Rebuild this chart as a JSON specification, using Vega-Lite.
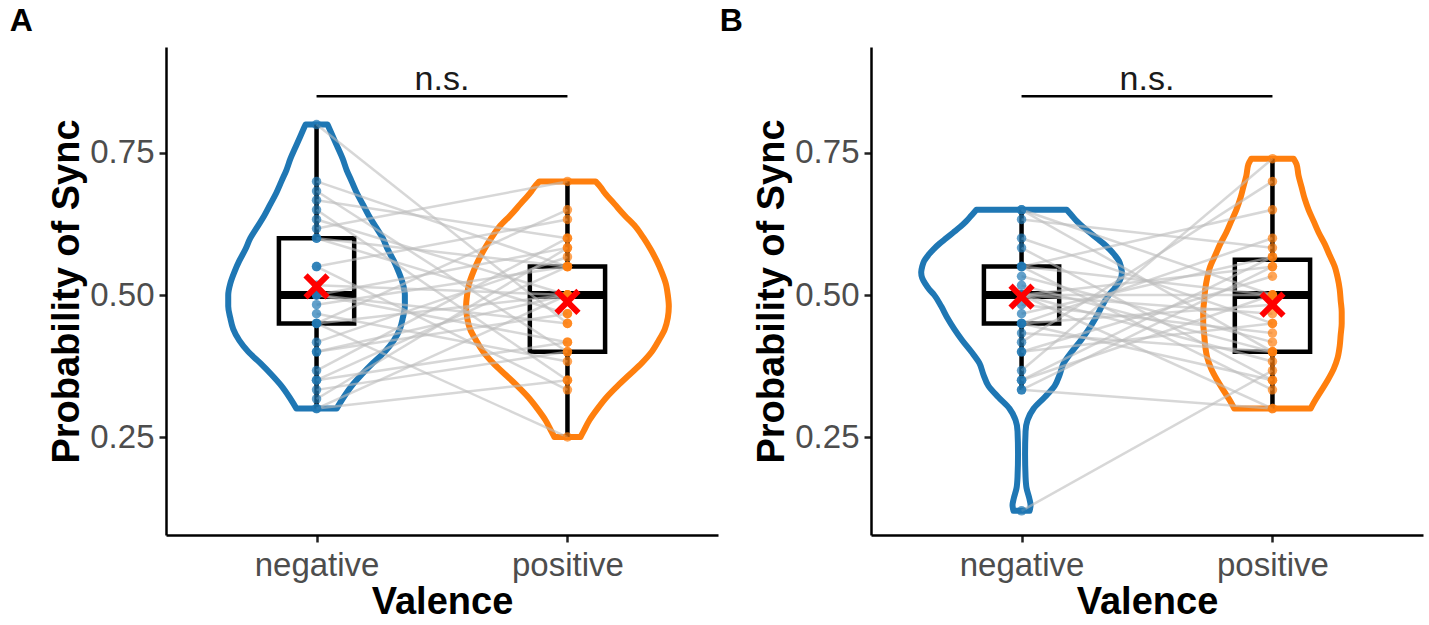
{
"$schema": "https://vega.github.io/schema/vega-lite/v6.json",
"background": "white",
"padding": {"left": 9, "top": 5, "right": 5, "bottom": 5},
"spacing": 1,
"config": {
  "view": {"stroke": null},
  "font": "Liberation Sans",
  "axis": {"grid": false, "domainColor": "black", "domainWidth": 2.5, "tickColor": "#222222", "tickWidth": 2.5, "tickSize": 7, "labelFont": "Liberation Sans", "labelFontSize": 33, "labelColor": "#4d4d4d", "titleFont": "Liberation Sans", "titleFontSize": 38, "titleFontWeight": "bold", "titleColor": "black"},
  "axisY": {"labelPadding": 5, "titlePadding": 3},
  "axisX": {"labelPadding": 7, "titlePadding": 1},
  "title": {"fontSize": 32, "fontWeight": "bold", "anchor": "start", "frame": "bounds", "color": "black", "font": "Liberation Sans"}
},
"datasets": {
  "pts": [
    {"panel":"A","id":1,"valence":"negative","value":0.80},{"panel":"A","id":1,"valence":"positive","value":0.45},
    {"panel":"A","id":2,"valence":"negative","value":0.70},{"panel":"A","id":2,"valence":"positive","value":0.55},
    {"panel":"A","id":3,"valence":"negative","value":0.683},{"panel":"A","id":3,"valence":"positive","value":0.40},
    {"panel":"A","id":4,"valence":"negative","value":0.667},{"panel":"A","id":4,"valence":"positive","value":0.60},
    {"panel":"A","id":5,"valence":"negative","value":0.65},{"panel":"A","id":5,"valence":"positive","value":0.35},
    {"panel":"A","id":6,"valence":"negative","value":0.633},{"panel":"A","id":6,"valence":"positive","value":0.50},
    {"panel":"A","id":7,"valence":"negative","value":0.617},{"panel":"A","id":7,"valence":"positive","value":0.70},
    {"panel":"A","id":8,"valence":"negative","value":0.60},{"panel":"A","id":8,"valence":"positive","value":0.467},
    {"panel":"A","id":9,"valence":"negative","value":0.60},{"panel":"A","id":9,"valence":"positive","value":0.55},
    {"panel":"A","id":10,"valence":"negative","value":0.55},{"panel":"A","id":10,"valence":"positive","value":0.333},
    {"panel":"A","id":11,"valence":"negative","value":0.55},{"panel":"A","id":11,"valence":"positive","value":0.633},
    {"panel":"A","id":12,"valence":"negative","value":0.517},{"panel":"A","id":12,"valence":"positive","value":0.50},
    {"panel":"A","id":13,"valence":"negative","value":0.50},{"panel":"A","id":13,"valence":"positive","value":0.417},
    {"panel":"A","id":14,"valence":"negative","value":0.50},{"panel":"A","id":14,"valence":"positive","value":0.583},
    {"panel":"A","id":15,"valence":"negative","value":0.50},{"panel":"A","id":15,"valence":"positive","value":0.45},
    {"panel":"A","id":16,"valence":"negative","value":0.483},{"panel":"A","id":16,"valence":"positive","value":0.55},
    {"panel":"A","id":17,"valence":"negative","value":0.467},{"panel":"A","id":17,"valence":"positive","value":0.383},
    {"panel":"A","id":18,"valence":"negative","value":0.45},{"panel":"A","id":18,"valence":"positive","value":0.65},
    {"panel":"A","id":19,"valence":"negative","value":0.45},{"panel":"A","id":19,"valence":"positive","value":0.50},
    {"panel":"A","id":20,"valence":"negative","value":0.45},{"panel":"A","id":20,"valence":"positive","value":0.25},
    {"panel":"A","id":21,"valence":"negative","value":0.417},{"panel":"A","id":21,"valence":"positive","value":0.567},
    {"panel":"A","id":22,"valence":"negative","value":0.40},{"panel":"A","id":22,"valence":"positive","value":0.50},
    {"panel":"A","id":23,"valence":"negative","value":0.40},{"panel":"A","id":23,"valence":"positive","value":0.467},
    {"panel":"A","id":24,"valence":"negative","value":0.367},{"panel":"A","id":24,"valence":"positive","value":0.60},
    {"panel":"A","id":25,"valence":"negative","value":0.35},{"panel":"A","id":25,"valence":"positive","value":0.417},
    {"panel":"A","id":26,"valence":"negative","value":0.35},{"panel":"A","id":26,"valence":"positive","value":0.55},
    {"panel":"A","id":27,"valence":"negative","value":0.333},{"panel":"A","id":27,"valence":"positive","value":0.40},
    {"panel":"A","id":28,"valence":"negative","value":0.317},{"panel":"A","id":28,"valence":"positive","value":0.583},
    {"panel":"A","id":29,"valence":"negative","value":0.30},{"panel":"A","id":29,"valence":"positive","value":0.50},
    {"panel":"A","id":30,"valence":"negative","value":0.30},{"panel":"A","id":30,"valence":"positive","value":0.35},
    {"panel":"B","id":1,"valence":"negative","value":0.65},{"panel":"B","id":1,"valence":"positive","value":0.50},
    {"panel":"B","id":2,"valence":"negative","value":0.65},{"panel":"B","id":2,"valence":"positive","value":0.40},
    {"panel":"B","id":3,"valence":"negative","value":0.633},{"panel":"B","id":3,"valence":"positive","value":0.583},
    {"panel":"B","id":4,"valence":"negative","value":0.60},{"panel":"B","id":4,"valence":"positive","value":0.45},
    {"panel":"B","id":5,"valence":"negative","value":0.583},{"panel":"B","id":5,"valence":"positive","value":0.35},
    {"panel":"B","id":6,"valence":"negative","value":0.55},{"panel":"B","id":6,"valence":"positive","value":0.65},
    {"panel":"B","id":7,"valence":"negative","value":0.55},{"panel":"B","id":7,"valence":"positive","value":0.50},
    {"panel":"B","id":8,"valence":"negative","value":0.533},{"panel":"B","id":8,"valence":"positive","value":0.417},
    {"panel":"B","id":9,"valence":"negative","value":0.517},{"panel":"B","id":9,"valence":"positive","value":0.40},
    {"panel":"B","id":10,"valence":"negative","value":0.50},{"panel":"B","id":10,"valence":"positive","value":0.55},
    {"panel":"B","id":11,"valence":"negative","value":0.50},{"panel":"B","id":11,"valence":"positive","value":0.30},
    {"panel":"B","id":12,"valence":"negative","value":0.50},{"panel":"B","id":12,"valence":"positive","value":0.467},
    {"panel":"B","id":13,"valence":"negative","value":0.50},{"panel":"B","id":13,"valence":"positive","value":0.50},
    {"panel":"B","id":14,"valence":"negative","value":0.50},{"panel":"B","id":14,"valence":"positive","value":0.383},
    {"panel":"B","id":15,"valence":"negative","value":0.483},{"panel":"B","id":15,"valence":"positive","value":0.433},
    {"panel":"B","id":16,"valence":"negative","value":0.467},{"panel":"B","id":16,"valence":"positive","value":0.567},
    {"panel":"B","id":17,"valence":"negative","value":0.45},{"panel":"B","id":17,"valence":"positive","value":0.35},
    {"panel":"B","id":18,"valence":"negative","value":0.45},{"panel":"B","id":18,"valence":"positive","value":0.60},
    {"panel":"B","id":19,"valence":"negative","value":0.45},{"panel":"B","id":19,"valence":"positive","value":0.483},
    {"panel":"B","id":20,"valence":"negative","value":0.433},{"panel":"B","id":20,"valence":"positive","value":0.40},
    {"panel":"B","id":21,"valence":"negative","value":0.417},{"panel":"B","id":21,"valence":"positive","value":0.70},
    {"panel":"B","id":22,"valence":"negative","value":0.40},{"panel":"B","id":22,"valence":"positive","value":0.533},
    {"panel":"B","id":23,"valence":"negative","value":0.40},{"panel":"B","id":23,"valence":"positive","value":0.45},
    {"panel":"B","id":24,"valence":"negative","value":0.367},{"panel":"B","id":24,"valence":"positive","value":0.74},
    {"panel":"B","id":25,"valence":"negative","value":0.35},{"panel":"B","id":25,"valence":"positive","value":0.50},
    {"panel":"B","id":26,"valence":"negative","value":0.35},{"panel":"B","id":26,"valence":"positive","value":0.567},
    {"panel":"B","id":27,"valence":"negative","value":0.333},{"panel":"B","id":27,"valence":"positive","value":0.30},
    {"panel":"B","id":28,"valence":"negative","value":0.333},{"panel":"B","id":28,"valence":"positive","value":0.55},
    {"panel":"B","id":29,"valence":"negative","value":0.12},{"panel":"B","id":29,"valence":"positive","value":0.367},
    {"panel":"B","id":30,"valence":"negative","value":0.55},{"panel":"B","id":30,"valence":"positive","value":0.333}
  ],
  "violin": [
    {"panel":"A","valence":"negative","value":0.30,"w":0.080},{"panel":"A","valence":"negative","value":0.32,"w":0.108},
    {"panel":"A","valence":"negative","value":0.34,"w":0.140},{"panel":"A","valence":"negative","value":0.36,"w":0.180},
    {"panel":"A","valence":"negative","value":0.38,"w":0.224},{"panel":"A","valence":"negative","value":0.40,"w":0.272},
    {"panel":"A","valence":"negative","value":0.42,"w":0.308},{"panel":"A","valence":"negative","value":0.44,"w":0.332},
    {"panel":"A","valence":"negative","value":0.46,"w":0.344},{"panel":"A","valence":"negative","value":0.48,"w":0.352},
    {"panel":"A","valence":"negative","value":0.50,"w":0.352},{"panel":"A","valence":"negative","value":0.52,"w":0.344},
    {"panel":"A","valence":"negative","value":0.54,"w":0.328},{"panel":"A","valence":"negative","value":0.56,"w":0.308},
    {"panel":"A","valence":"negative","value":0.58,"w":0.284},{"panel":"A","valence":"negative","value":0.60,"w":0.264},
    {"panel":"A","valence":"negative","value":0.62,"w":0.236},{"panel":"A","valence":"negative","value":0.64,"w":0.208},
    {"panel":"A","valence":"negative","value":0.66,"w":0.184},{"panel":"A","valence":"negative","value":0.68,"w":0.160},
    {"panel":"A","valence":"negative","value":0.70,"w":0.140},{"panel":"A","valence":"negative","value":0.72,"w":0.120},
    {"panel":"A","valence":"negative","value":0.74,"w":0.104},{"panel":"A","valence":"negative","value":0.76,"w":0.084},
    {"panel":"A","valence":"negative","value":0.78,"w":0.064},{"panel":"A","valence":"negative","value":0.80,"w":0.044},
    {"panel":"A","valence":"positive","value":0.25,"w":0.052},{"panel":"A","valence":"positive","value":0.26,"w":0.064},
    {"panel":"A","valence":"positive","value":0.28,"w":0.088},{"panel":"A","valence":"positive","value":0.30,"w":0.120},
    {"panel":"A","valence":"positive","value":0.32,"w":0.156},{"panel":"A","valence":"positive","value":0.34,"w":0.200},
    {"panel":"A","valence":"positive","value":0.36,"w":0.248},{"panel":"A","valence":"positive","value":0.38,"w":0.296},
    {"panel":"A","valence":"positive","value":0.40,"w":0.336},{"panel":"A","valence":"positive","value":0.42,"w":0.364},
    {"panel":"A","valence":"positive","value":0.44,"w":0.388},{"panel":"A","valence":"positive","value":0.46,"w":0.400},
    {"panel":"A","valence":"positive","value":0.48,"w":0.404},{"panel":"A","valence":"positive","value":0.50,"w":0.400},
    {"panel":"A","valence":"positive","value":0.52,"w":0.392},{"panel":"A","valence":"positive","value":0.54,"w":0.376},
    {"panel":"A","valence":"positive","value":0.56,"w":0.356},{"panel":"A","valence":"positive","value":0.58,"w":0.332},
    {"panel":"A","valence":"positive","value":0.60,"w":0.304},{"panel":"A","valence":"positive","value":0.62,"w":0.272},
    {"panel":"A","valence":"positive","value":0.64,"w":0.228},{"panel":"A","valence":"positive","value":0.66,"w":0.188},
    {"panel":"A","valence":"positive","value":0.68,"w":0.148},{"panel":"A","valence":"positive","value":0.69,"w":0.132},
    {"panel":"A","valence":"positive","value":0.70,"w":0.112},
    {"panel":"B","valence":"negative","value":0.12,"w":0.032},{"panel":"B","valence":"negative","value":0.13,"w":0.036},
    {"panel":"B","valence":"negative","value":0.14,"w":0.032},{"panel":"B","valence":"negative","value":0.16,"w":0.020},
    {"panel":"B","valence":"negative","value":0.18,"w":0.016},{"panel":"B","valence":"negative","value":0.22,"w":0.014},
    {"panel":"B","valence":"negative","value":0.26,"w":0.016},{"panel":"B","valence":"negative","value":0.28,"w":0.024},
    {"panel":"B","valence":"negative","value":0.30,"w":0.048},{"panel":"B","valence":"negative","value":0.32,"w":0.092},
    {"panel":"B","valence":"negative","value":0.34,"w":0.132},{"panel":"B","valence":"negative","value":0.36,"w":0.152},
    {"panel":"B","valence":"negative","value":0.38,"w":0.168},{"panel":"B","valence":"negative","value":0.40,"w":0.200},
    {"panel":"B","valence":"negative","value":0.42,"w":0.236},{"panel":"B","valence":"negative","value":0.44,"w":0.268},
    {"panel":"B","valence":"negative","value":0.46,"w":0.296},{"panel":"B","valence":"negative","value":0.48,"w":0.320},
    {"panel":"B","valence":"negative","value":0.50,"w":0.348},{"panel":"B","valence":"negative","value":0.51,"w":0.368},
    {"panel":"B","valence":"negative","value":0.52,"w":0.384},{"panel":"B","valence":"negative","value":0.53,"w":0.396},
    {"panel":"B","valence":"negative","value":0.54,"w":0.400},{"panel":"B","valence":"negative","value":0.55,"w":0.396},
    {"panel":"B","valence":"negative","value":0.56,"w":0.388},{"panel":"B","valence":"negative","value":0.57,"w":0.372},
    {"panel":"B","valence":"negative","value":0.58,"w":0.352},{"panel":"B","valence":"negative","value":0.59,"w":0.328},
    {"panel":"B","valence":"negative","value":0.60,"w":0.300},{"panel":"B","valence":"negative","value":0.61,"w":0.272},
    {"panel":"B","valence":"negative","value":0.62,"w":0.244},{"panel":"B","valence":"negative","value":0.63,"w":0.220},
    {"panel":"B","valence":"negative","value":0.64,"w":0.200},{"panel":"B","valence":"negative","value":0.65,"w":0.180},
    {"panel":"B","valence":"positive","value":0.30,"w":0.152},{"panel":"B","valence":"positive","value":0.31,"w":0.164},
    {"panel":"B","valence":"positive","value":0.33,"w":0.192},{"panel":"B","valence":"positive","value":0.35,"w":0.220},
    {"panel":"B","valence":"positive","value":0.37,"w":0.244},{"panel":"B","valence":"positive","value":0.39,"w":0.260},
    {"panel":"B","valence":"positive","value":0.41,"w":0.268},{"panel":"B","valence":"positive","value":0.43,"w":0.272},
    {"panel":"B","valence":"positive","value":0.45,"w":0.276},{"panel":"B","valence":"positive","value":0.47,"w":0.276},
    {"panel":"B","valence":"positive","value":0.49,"w":0.272},{"panel":"B","valence":"positive","value":0.51,"w":0.268},
    {"panel":"B","valence":"positive","value":0.53,"w":0.260},{"panel":"B","valence":"positive","value":0.55,"w":0.248},
    {"panel":"B","valence":"positive","value":0.57,"w":0.228},{"panel":"B","valence":"positive","value":0.59,"w":0.208},
    {"panel":"B","valence":"positive","value":0.61,"w":0.184},{"panel":"B","valence":"positive","value":0.63,"w":0.164},
    {"panel":"B","valence":"positive","value":0.65,"w":0.144},{"panel":"B","valence":"positive","value":0.67,"w":0.128},
    {"panel":"B","valence":"positive","value":0.69,"w":0.116},{"panel":"B","valence":"positive","value":0.71,"w":0.104},
    {"panel":"B","valence":"positive","value":0.73,"w":0.096},{"panel":"B","valence":"positive","value":0.74,"w":0.084}
  ],
  "box": [
    {"panel":"A","valence":"negative","lower":0.30,"q1":0.45,"median":0.50,"q3":0.60,"upper":0.80,"mean":0.515},
    {"panel":"A","valence":"positive","lower":0.25,"q1":0.40,"median":0.50,"q3":0.55,"upper":0.70,"mean":0.488},
    {"panel":"B","valence":"negative","lower":0.333,"q1":0.45,"median":0.50,"q3":0.55,"upper":0.65,"mean":0.497},
    {"panel":"B","valence":"positive","lower":0.30,"q1":0.40,"median":0.50,"q3":0.562,"upper":0.74,"mean":0.483}
  ],
  "sig": [
    {"panel":"A","from":"negative","to":"positive","y":0.85,"label":"n.s."},
    {"panel":"B","from":"negative","to":"positive","y":0.85,"label":"n.s."}
  ]
},
"hconcat": [
  {
    "title": {"text": "A", "dx": -39, "offset": 9},
    "width": 552, "height": 488,
    "layer": [
      {"data": {"name": "violin"},
       "transform": [{"filter": "datum.panel == 'A'"}, {"calculate": "datum.valence == 'negative' ? 1 : 2", "as": "pos"}, {"calculate": "datum.pos - datum.w", "as": "xl"}, {"calculate": "datum.pos + datum.w", "as": "xr"}],
       "mark": {"type": "area", "orient": "horizontal", "fillOpacity": 0, "strokeWidth": 6, "strokeJoin": "round", "interpolate": "monotone"},
       "encoding": {
         "y": {"field": "value", "type": "quantitative", "scale": {"domain": [0.0775, 0.9366], "nice": false, "zero": false}, "axis": {"values": [0.25, 0.5, 0.75], "format": ".2f", "title": "Probability of Sync"}},
         "x": {"field": "xl", "type": "quantitative", "scale": {"domain": [0.4, 2.6], "nice": false, "zero": false}, "axis": {"values": [1, 2], "labelExpr": "datum.value == 1 ? 'negative' : 'positive'", "title": "Valence"}},
         "x2": {"field": "xr"},
         "stroke": {"field": "valence", "type": "nominal", "scale": {"domain": ["negative", "positive"], "range": ["#1f77b4", "#ff7f0e"]}, "legend": null}
       }},
      {"data": {"name": "box"},
       "transform": [{"filter": "datum.panel == 'A'"}, {"calculate": "datum.valence == 'negative' ? 1 : 2", "as": "pos"}],
       "mark": {"type": "rule", "color": "black", "strokeWidth": 4.5},
       "encoding": {
         "x": {"field": "pos", "type": "quantitative", "scale": {"domain": [0.4, 2.6], "nice": false, "zero": false}, "axis": {"values": [1, 2], "labelExpr": "datum.value == 1 ? 'negative' : 'positive'", "title": "Valence"}},
         "y": {"field": "lower", "type": "quantitative", "scale": {"domain": [0.0775, 0.9366], "nice": false, "zero": false}, "axis": {"values": [0.25, 0.5, 0.75], "format": ".2f", "title": "Probability of Sync"}},
         "y2": {"field": "q1"}
       }},
      {"data": {"name": "box"},
       "transform": [{"filter": "datum.panel == 'A'"}, {"calculate": "datum.valence == 'negative' ? 1 : 2", "as": "pos"}],
       "mark": {"type": "rule", "color": "black", "strokeWidth": 4.5},
       "encoding": {
         "x": {"field": "pos", "type": "quantitative", "scale": {"domain": [0.4, 2.6], "nice": false, "zero": false}, "axis": {"values": [1, 2], "labelExpr": "datum.value == 1 ? 'negative' : 'positive'", "title": "Valence"}},
         "y": {"field": "q3", "type": "quantitative", "scale": {"domain": [0.0775, 0.9366], "nice": false, "zero": false}, "axis": {"values": [0.25, 0.5, 0.75], "format": ".2f", "title": "Probability of Sync"}},
         "y2": {"field": "upper"}
       }},
      {"data": {"name": "box"},
       "transform": [{"filter": "datum.panel == 'A'"}, {"calculate": "datum.valence == 'negative' ? 1 : 2", "as": "pos"}, {"calculate": "datum.pos - 0.15", "as": "bl"}, {"calculate": "datum.pos + 0.15", "as": "br"}],
       "mark": {"type": "rect", "fillOpacity": 0, "stroke": "black", "strokeWidth": 4.5},
       "encoding": {
         "x": {"field": "bl", "type": "quantitative", "scale": {"domain": [0.4, 2.6], "nice": false, "zero": false}, "axis": {"values": [1, 2], "labelExpr": "datum.value == 1 ? 'negative' : 'positive'", "title": "Valence"}},
         "x2": {"field": "br"},
         "y": {"field": "q1", "type": "quantitative", "scale": {"domain": [0.0775, 0.9366], "nice": false, "zero": false}, "axis": {"values": [0.25, 0.5, 0.75], "format": ".2f", "title": "Probability of Sync"}},
         "y2": {"field": "q3"}
       }},
      {"data": {"name": "box"},
       "transform": [{"filter": "datum.panel == 'A'"}, {"calculate": "datum.valence == 'negative' ? 1 : 2", "as": "pos"}, {"calculate": "datum.pos - 0.15", "as": "bl"}, {"calculate": "datum.pos + 0.15", "as": "br"}],
       "mark": {"type": "rule", "color": "black", "strokeWidth": 8},
       "encoding": {
         "x": {"field": "bl", "type": "quantitative", "scale": {"domain": [0.4, 2.6], "nice": false, "zero": false}, "axis": {"values": [1, 2], "labelExpr": "datum.value == 1 ? 'negative' : 'positive'", "title": "Valence"}},
         "x2": {"field": "br"},
         "y": {"field": "median", "type": "quantitative", "scale": {"domain": [0.0775, 0.9366], "nice": false, "zero": false}, "axis": {"values": [0.25, 0.5, 0.75], "format": ".2f", "title": "Probability of Sync"}}
       }},
      {"data": {"name": "pts"},
       "transform": [{"filter": "datum.panel == 'A'"}, {"calculate": "datum.valence == 'negative' ? 1 : 2", "as": "pos"}],
       "mark": {"type": "line", "color": "#bdbdbd", "opacity": 0.6, "strokeWidth": 2.5},
       "encoding": {
         "x": {"field": "pos", "type": "quantitative", "scale": {"domain": [0.4, 2.6], "nice": false, "zero": false}, "axis": {"values": [1, 2], "labelExpr": "datum.value == 1 ? 'negative' : 'positive'", "title": "Valence"}},
         "y": {"field": "value", "type": "quantitative", "scale": {"domain": [0.0775, 0.9366], "nice": false, "zero": false}, "axis": {"values": [0.25, 0.5, 0.75], "format": ".2f", "title": "Probability of Sync"}},
         "detail": {"field": "id", "type": "nominal"},
         "order": {"field": "pos"}
       }},
      {"data": {"name": "pts"},
       "transform": [{"filter": "datum.panel == 'A'"}, {"calculate": "datum.valence == 'negative' ? 1 : 2", "as": "pos"}],
       "mark": {"type": "circle", "size": 90, "opacity": 0.7},
       "encoding": {
         "x": {"field": "pos", "type": "quantitative", "scale": {"domain": [0.4, 2.6], "nice": false, "zero": false}, "axis": {"values": [1, 2], "labelExpr": "datum.value == 1 ? 'negative' : 'positive'", "title": "Valence"}},
         "y": {"field": "value", "type": "quantitative", "scale": {"domain": [0.0775, 0.9366], "nice": false, "zero": false}, "axis": {"values": [0.25, 0.5, 0.75], "format": ".2f", "title": "Probability of Sync"}},
         "color": {"field": "valence", "type": "nominal", "scale": {"domain": ["negative", "positive"], "range": ["#1f77b4", "#ff7f0e"]}, "legend": null}
       }},
      {"data": {"name": "box"},
       "transform": [{"filter": "datum.panel == 'A'"}, {"calculate": "datum.valence == 'negative' ? 1 : 2", "as": "pos"}],
       "mark": {"type": "point", "shape": "M-1,-1L1,1M1,-1L-1,1", "filled": false, "color": "#ff0000", "strokeWidth": 6, "size": 484, "opacity": 1},
       "encoding": {
         "x": {"field": "pos", "type": "quantitative", "scale": {"domain": [0.4, 2.6], "nice": false, "zero": false}, "axis": {"values": [1, 2], "labelExpr": "datum.value == 1 ? 'negative' : 'positive'", "title": "Valence"}},
         "y": {"field": "mean", "type": "quantitative", "scale": {"domain": [0.0775, 0.9366], "nice": false, "zero": false}, "axis": {"values": [0.25, 0.5, 0.75], "format": ".2f", "title": "Probability of Sync"}}
       }},
      {"data": {"name": "sig"},
       "transform": [{"filter": "datum.panel == 'A'"}, {"calculate": "datum.from == 'negative' ? 1 : 2", "as": "p1"}, {"calculate": "datum.to == 'negative' ? 1 : 2", "as": "p2"}],
       "mark": {"type": "rule", "color": "black", "strokeWidth": 2.5},
       "encoding": {
         "x": {"field": "p1", "type": "quantitative", "scale": {"domain": [0.4, 2.6], "nice": false, "zero": false}, "axis": {"values": [1, 2], "labelExpr": "datum.value == 1 ? 'negative' : 'positive'", "title": "Valence"}},
         "x2": {"field": "p2"},
         "y": {"field": "y", "type": "quantitative", "scale": {"domain": [0.0775, 0.9366], "nice": false, "zero": false}, "axis": {"values": [0.25, 0.5, 0.75], "format": ".2f", "title": "Probability of Sync"}}
       }},
      {"data": {"name": "sig"},
       "transform": [{"filter": "datum.panel == 'A'"}, {"calculate": "datum.from == 'negative' ? 1 : 2", "as": "p1"}, {"calculate": "datum.to == 'negative' ? 1 : 2", "as": "p2"}, {"calculate": "(datum.p1 + datum.p2) / 2", "as": "pm"}],
       "mark": {"type": "text", "color": "#1a1a1a", "fontSize": 34, "baseline": "alphabetic", "dy": -6},
       "encoding": {
         "x": {"field": "pm", "type": "quantitative", "scale": {"domain": [0.4, 2.6], "nice": false, "zero": false}, "axis": {"values": [1, 2], "labelExpr": "datum.value == 1 ? 'negative' : 'positive'", "title": "Valence"}},
         "y": {"field": "y", "type": "quantitative", "scale": {"domain": [0.0775, 0.9366], "nice": false, "zero": false}, "axis": {"values": [0.25, 0.5, 0.75], "format": ".2f", "title": "Probability of Sync"}},
         "text": {"field": "label"}
       }}
    ]
  },
  {
    "title": {"text": "B", "dx": -34, "offset": 9},
    "width": 552, "height": 488,
    "layer": [
      {"data": {"name": "violin"},
       "transform": [{"filter": "datum.panel == 'B'"}, {"calculate": "datum.valence == 'negative' ? 1 : 2", "as": "pos"}, {"calculate": "datum.pos - datum.w", "as": "xl"}, {"calculate": "datum.pos + datum.w", "as": "xr"}],
       "mark": {"type": "area", "orient": "horizontal", "fillOpacity": 0, "strokeWidth": 6, "strokeJoin": "round", "interpolate": "monotone"},
       "encoding": {
         "y": {"field": "value", "type": "quantitative", "scale": {"domain": [0.0775, 0.9366], "nice": false, "zero": false}, "axis": {"values": [0.25, 0.5, 0.75], "format": ".2f", "title": "Probability of Sync"}},
         "x": {"field": "xl", "type": "quantitative", "scale": {"domain": [0.4, 2.6], "nice": false, "zero": false}, "axis": {"values": [1, 2], "labelExpr": "datum.value == 1 ? 'negative' : 'positive'", "title": "Valence"}},
         "x2": {"field": "xr"},
         "stroke": {"field": "valence", "type": "nominal", "scale": {"domain": ["negative", "positive"], "range": ["#1f77b4", "#ff7f0e"]}, "legend": null}
       }},
      {"data": {"name": "box"},
       "transform": [{"filter": "datum.panel == 'B'"}, {"calculate": "datum.valence == 'negative' ? 1 : 2", "as": "pos"}],
       "mark": {"type": "rule", "color": "black", "strokeWidth": 4.5},
       "encoding": {
         "x": {"field": "pos", "type": "quantitative", "scale": {"domain": [0.4, 2.6], "nice": false, "zero": false}, "axis": {"values": [1, 2], "labelExpr": "datum.value == 1 ? 'negative' : 'positive'", "title": "Valence"}},
         "y": {"field": "lower", "type": "quantitative", "scale": {"domain": [0.0775, 0.9366], "nice": false, "zero": false}, "axis": {"values": [0.25, 0.5, 0.75], "format": ".2f", "title": "Probability of Sync"}},
         "y2": {"field": "q1"}
       }},
      {"data": {"name": "box"},
       "transform": [{"filter": "datum.panel == 'B'"}, {"calculate": "datum.valence == 'negative' ? 1 : 2", "as": "pos"}],
       "mark": {"type": "rule", "color": "black", "strokeWidth": 4.5},
       "encoding": {
         "x": {"field": "pos", "type": "quantitative", "scale": {"domain": [0.4, 2.6], "nice": false, "zero": false}, "axis": {"values": [1, 2], "labelExpr": "datum.value == 1 ? 'negative' : 'positive'", "title": "Valence"}},
         "y": {"field": "q3", "type": "quantitative", "scale": {"domain": [0.0775, 0.9366], "nice": false, "zero": false}, "axis": {"values": [0.25, 0.5, 0.75], "format": ".2f", "title": "Probability of Sync"}},
         "y2": {"field": "upper"}
       }},
      {"data": {"name": "box"},
       "transform": [{"filter": "datum.panel == 'B'"}, {"calculate": "datum.valence == 'negative' ? 1 : 2", "as": "pos"}, {"calculate": "datum.pos - 0.15", "as": "bl"}, {"calculate": "datum.pos + 0.15", "as": "br"}],
       "mark": {"type": "rect", "fillOpacity": 0, "stroke": "black", "strokeWidth": 4.5},
       "encoding": {
         "x": {"field": "bl", "type": "quantitative", "scale": {"domain": [0.4, 2.6], "nice": false, "zero": false}, "axis": {"values": [1, 2], "labelExpr": "datum.value == 1 ? 'negative' : 'positive'", "title": "Valence"}},
         "x2": {"field": "br"},
         "y": {"field": "q1", "type": "quantitative", "scale": {"domain": [0.0775, 0.9366], "nice": false, "zero": false}, "axis": {"values": [0.25, 0.5, 0.75], "format": ".2f", "title": "Probability of Sync"}},
         "y2": {"field": "q3"}
       }},
      {"data": {"name": "box"},
       "transform": [{"filter": "datum.panel == 'B'"}, {"calculate": "datum.valence == 'negative' ? 1 : 2", "as": "pos"}, {"calculate": "datum.pos - 0.15", "as": "bl"}, {"calculate": "datum.pos + 0.15", "as": "br"}],
       "mark": {"type": "rule", "color": "black", "strokeWidth": 8},
       "encoding": {
         "x": {"field": "bl", "type": "quantitative", "scale": {"domain": [0.4, 2.6], "nice": false, "zero": false}, "axis": {"values": [1, 2], "labelExpr": "datum.value == 1 ? 'negative' : 'positive'", "title": "Valence"}},
         "x2": {"field": "br"},
         "y": {"field": "median", "type": "quantitative", "scale": {"domain": [0.0775, 0.9366], "nice": false, "zero": false}, "axis": {"values": [0.25, 0.5, 0.75], "format": ".2f", "title": "Probability of Sync"}}
       }},
      {"data": {"name": "pts"},
       "transform": [{"filter": "datum.panel == 'B'"}, {"calculate": "datum.valence == 'negative' ? 1 : 2", "as": "pos"}],
       "mark": {"type": "line", "color": "#bdbdbd", "opacity": 0.6, "strokeWidth": 2.5},
       "encoding": {
         "x": {"field": "pos", "type": "quantitative", "scale": {"domain": [0.4, 2.6], "nice": false, "zero": false}, "axis": {"values": [1, 2], "labelExpr": "datum.value == 1 ? 'negative' : 'positive'", "title": "Valence"}},
         "y": {"field": "value", "type": "quantitative", "scale": {"domain": [0.0775, 0.9366], "nice": false, "zero": false}, "axis": {"values": [0.25, 0.5, 0.75], "format": ".2f", "title": "Probability of Sync"}},
         "detail": {"field": "id", "type": "nominal"},
         "order": {"field": "pos"}
       }},
      {"data": {"name": "pts"},
       "transform": [{"filter": "datum.panel == 'B'"}, {"calculate": "datum.valence == 'negative' ? 1 : 2", "as": "pos"}],
       "mark": {"type": "circle", "size": 90, "opacity": 0.7},
       "encoding": {
         "x": {"field": "pos", "type": "quantitative", "scale": {"domain": [0.4, 2.6], "nice": false, "zero": false}, "axis": {"values": [1, 2], "labelExpr": "datum.value == 1 ? 'negative' : 'positive'", "title": "Valence"}},
         "y": {"field": "value", "type": "quantitative", "scale": {"domain": [0.0775, 0.9366], "nice": false, "zero": false}, "axis": {"values": [0.25, 0.5, 0.75], "format": ".2f", "title": "Probability of Sync"}},
         "color": {"field": "valence", "type": "nominal", "scale": {"domain": ["negative", "positive"], "range": ["#1f77b4", "#ff7f0e"]}, "legend": null}
       }},
      {"data": {"name": "box"},
       "transform": [{"filter": "datum.panel == 'B'"}, {"calculate": "datum.valence == 'negative' ? 1 : 2", "as": "pos"}],
       "mark": {"type": "point", "shape": "M-1,-1L1,1M1,-1L-1,1", "filled": false, "color": "#ff0000", "strokeWidth": 6, "size": 484, "opacity": 1},
       "encoding": {
         "x": {"field": "pos", "type": "quantitative", "scale": {"domain": [0.4, 2.6], "nice": false, "zero": false}, "axis": {"values": [1, 2], "labelExpr": "datum.value == 1 ? 'negative' : 'positive'", "title": "Valence"}},
         "y": {"field": "mean", "type": "quantitative", "scale": {"domain": [0.0775, 0.9366], "nice": false, "zero": false}, "axis": {"values": [0.25, 0.5, 0.75], "format": ".2f", "title": "Probability of Sync"}}
       }},
      {"data": {"name": "sig"},
       "transform": [{"filter": "datum.panel == 'B'"}, {"calculate": "datum.from == 'negative' ? 1 : 2", "as": "p1"}, {"calculate": "datum.to == 'negative' ? 1 : 2", "as": "p2"}],
       "mark": {"type": "rule", "color": "black", "strokeWidth": 2.5},
       "encoding": {
         "x": {"field": "p1", "type": "quantitative", "scale": {"domain": [0.4, 2.6], "nice": false, "zero": false}, "axis": {"values": [1, 2], "labelExpr": "datum.value == 1 ? 'negative' : 'positive'", "title": "Valence"}},
         "x2": {"field": "p2"},
         "y": {"field": "y", "type": "quantitative", "scale": {"domain": [0.0775, 0.9366], "nice": false, "zero": false}, "axis": {"values": [0.25, 0.5, 0.75], "format": ".2f", "title": "Probability of Sync"}}
       }},
      {"data": {"name": "sig"},
       "transform": [{"filter": "datum.panel == 'B'"}, {"calculate": "datum.from == 'negative' ? 1 : 2", "as": "p1"}, {"calculate": "datum.to == 'negative' ? 1 : 2", "as": "p2"}, {"calculate": "(datum.p1 + datum.p2) / 2", "as": "pm"}],
       "mark": {"type": "text", "color": "#1a1a1a", "fontSize": 34, "baseline": "alphabetic", "dy": -6},
       "encoding": {
         "x": {"field": "pm", "type": "quantitative", "scale": {"domain": [0.4, 2.6], "nice": false, "zero": false}, "axis": {"values": [1, 2], "labelExpr": "datum.value == 1 ? 'negative' : 'positive'", "title": "Valence"}},
         "y": {"field": "y", "type": "quantitative", "scale": {"domain": [0.0775, 0.9366], "nice": false, "zero": false}, "axis": {"values": [0.25, 0.5, 0.75], "format": ".2f", "title": "Probability of Sync"}},
         "text": {"field": "label"}
       }}
    ]
  }
]
}
